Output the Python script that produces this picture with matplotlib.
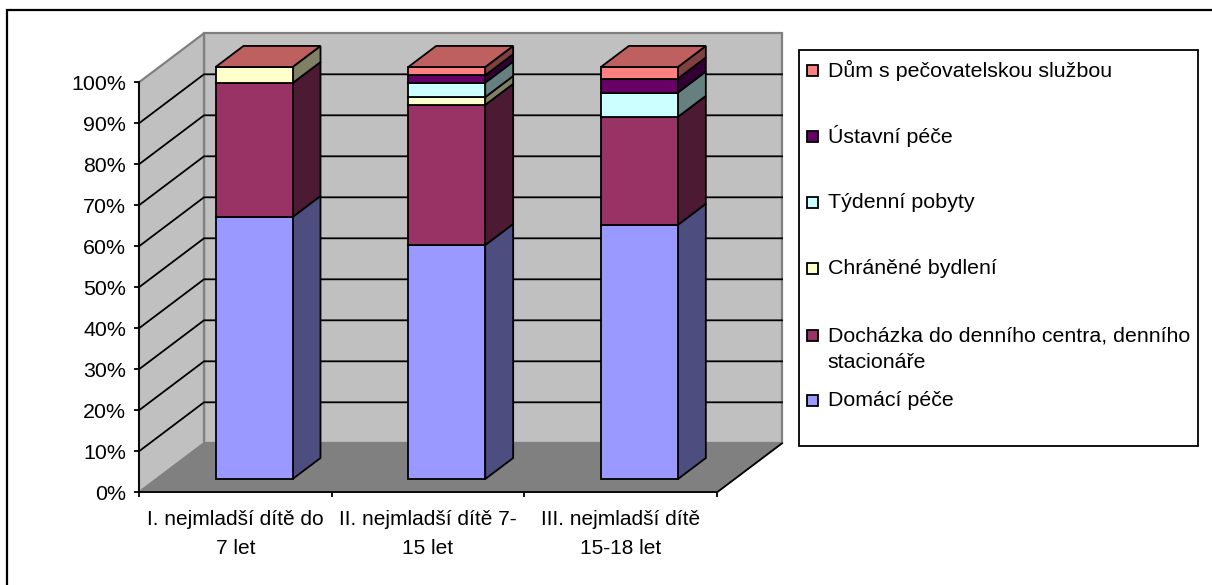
import matplotlib
matplotlib.use("Agg")
import matplotlib.pyplot as plt
from matplotlib.patches import Polygon, Rectangle
from matplotlib.transforms import Affine2D

plt.rcParams['font.family'] = ['Liberation Sans', 'DejaVu Sans']

categories = ["I. nejmladší dítě do\n7 let", "II. nejmladší dítě 7-\n15 let", "III. nejmladší dítě\n15-18 let"]
series_names = ["Domácí péče", "Docházka do denního centra, denního\nstacionáře", "Chráněné bydlení",
                "Týdenní pobyty", "Ústavní péče", "Dům s pečovatelskou službou"]
domaci = [63.6, 56.8, 61.7]
dochazka = [32.5, 34.0, 26.2]
chranene = [3.9, 1.9, 0.0]
tydenni = [0.0, 3.5, 5.9]
ustavni = [0.0, 1.8, 3.4]
dum = [0.0, 2.0, 2.8]
all_series = [domaci, dochazka, chranene, tydenni, ustavni, dum]
front_colors = ["#9999FF", "#993366", "#FFFFCC", "#CCFFFF", "#660066", "#FF8080"]
side_colors = ["#4D4D80", "#4D1A33", "#808066", "#668080", "#330033", "#804040"]
top_color = "#BF6060"
y_ticks = list(range(0, 101, 10))

W, H = 1212, 585
X0, Y0 = 139.0, 492.3      # pixel position of the front-plane origin
PX_CAT, PX_PCT = 192.67, 4.1
DX, DY = 65 / PX_CAT, 49 / PX_PCT   # depth vector in data units
FS_TICK = 15.4
FS_CAT = 15.0
FS_LEG = 15.4
LW = 1.3

fig = plt.figure(figsize=(W / 100, H / 100), dpi=100)
ax = fig.add_axes([0, 0, 1, 1])
ax.patch.set_visible(False)
ax.set_xlim(-X0 / PX_CAT, (W - X0) / PX_CAT)
ax.set_ylim((Y0 - H) / PX_PCT, Y0 / PX_PCT)


def P(x, y, d=0.0):
    return (x + d * DX, y + d * DY)


def poly(pts, fc, ec="black", lw=LW, z=1):
    ax.add_patch(Polygon(pts, closed=True, facecolor=fc, edgecolor=ec, linewidth=lw, zorder=z, joinstyle="miter"))


n = len(categories)
GRAY = "#808080"
# walls and floor
poly([P(0, 0, 1), P(n, 0, 1), P(n, 100, 1), P(0, 100, 1)], "#C0C0C0", GRAY, 1.6)
poly([P(0, 0), P(0, 0, 1), P(0, 100, 1), P(0, 100)], "#C0C0C0", GRAY, 1.6)
poly([P(0, 0), P(n, 0), P(n, 0, 1), P(0, 0, 1)], GRAY, GRAY, 1.0)
a, b = P(n, 0), P(n, 0, 1)
ax.plot([a[0], b[0]], [a[1], b[1]], color="black", lw=LW, zorder=1.1)
# gridlines
for t in y_ticks[1:-1]:
    pts = [P(0, t), P(0, t, 1), P(n, t, 1)]
    ax.plot([p[0] for p in pts], [p[1] for p in pts], color="black", lw=LW, zorder=1.2, solid_joinstyle="miter")

# bars
BAR_W = 77 / PX_CAT
D0, D1 = 0.27, 0.70
BAR_SCALE = 1.005
SHIFT = 0.006
for i in range(n):
    xl = i + 0.5 + SHIFT - BAR_W / 2
    xr = xl + BAR_W
    bottom = 0.0
    for values, fc, sc in zip(all_series, front_colors, side_colors):
        v = values[i] * BAR_SCALE
        if v <= 0:
            continue
        top = bottom + v
        poly([P(xr, bottom, D0), P(xr, bottom, D1), P(xr, top, D1), P(xr, top, D0)], sc, z=2)
        poly([P(xl, bottom, D0), P(xr, bottom, D0), P(xr, top, D0), P(xl, top, D0)], fc, z=2.1)
        bottom = top
    poly([P(xl, bottom, D0), P(xr, bottom, D0), P(xr, bottom, D1), P(xl, bottom, D1)], top_color, z=2.2)

# axes
for s in ["top", "right"]:
    ax.spines[s].set_visible(False)
ax.spines["left"].set_position(("data", 0))
ax.spines["bottom"].set_position(("data", 0))
ax.spines["left"].set_bounds(0, 100)
ax.spines["bottom"].set_bounds(0, n)
ax.spines["left"].set_linewidth(LW)
ax.spines["bottom"].set_linewidth(LW)
ax.set_yticks(y_ticks)
ax.set_yticklabels([f"{t}%" for t in y_ticks], fontsize=FS_TICK)
ax.tick_params(axis="y", length=3.6, width=LW, pad=5.8, color="black")
ax.set_xticks(range(n + 1))
ax.set_xticklabels([""] * (n + 1))
ax.tick_params(axis="x", which="major", length=3.6, width=LW)
ax.set_xticks([i + 0.5 for i in range(n)], minor=True)
ax.set_xticklabels(categories, minor=True, fontsize=FS_CAT, linespacing=1.62)
ax.tick_params(axis="x", which="minor", length=0, pad=13)

# pixel-space layer: chart frame and legend
px = Affine2D().scale(1 / W, -1 / H).translate(0, 1) + fig.transFigure
ax.plot([7, 7, W], [H, 9.5, 9.5], color="black", lw=1.6, transform=px, clip_on=False, zorder=5,
        solid_joinstyle="miter")
ax.add_patch(Rectangle((799, 50), 399, 396, facecolor="white", edgecolor="black", linewidth=LW,
                       transform=px, zorder=3))
legend_y = [400.5, 349, 268, 202, 136, 70]
for name, col, y in zip(series_names, front_colors, legend_y):
    marker_y = 335 if "\n" in name else y
    ax.add_patch(Rectangle((806.5, marker_y - 5.5), 11, 11, facecolor=col, edgecolor="black", linewidth=LW,
                           transform=px, zorder=4))
    ax.text(827.5, y, name, transform=px, fontsize=FS_LEG, va="center", ha="left", color="black", zorder=4,
            linespacing=1.5)

fig.savefig("out.png", dpi=100, facecolor="white")
